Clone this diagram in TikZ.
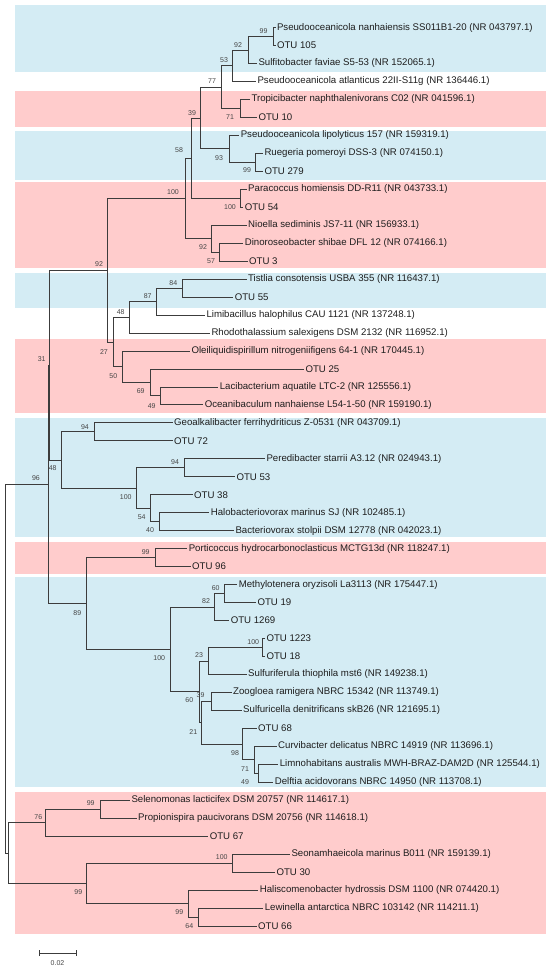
\documentclass[tikz,border=0pt]{standalone}
\usepackage{fontspec}
\setmainfont{Liberation Sans}
\definecolor{bandblue}{RGB}{212,236,244}
\definecolor{bandred}{RGB}{255,204,204}
\definecolor{linegray}{RGB}{60,60,60}
\definecolor{txtgray}{RGB}{30,30,30}
\definecolor{bootgray}{RGB}{70,70,70}
\tikzset{
  branch/.style={draw=linegray, line width=0.8pt},
  leaflab/.style={anchor=west, xshift=1.3pt, inner sep=0pt, font=\fontsize{9.65}{10}\selectfont, text=txtgray},
  boot/.style={inner sep=0pt, font=\fontsize{7}{8}\selectfont, text=bootgray},
  band/.style={draw=none}
}
\newcommand\lf[5]{\coordinate (#1) at (#3,#4); \node[leaflab] (#1t) at (#1) {#5}; \draw[branch] (#2) |- (#1);}
\newcommand\nd[4]{\coordinate (#1) at (#3,#4); \draw[branch] (#2) |- (#1);}
\newcommand\bs[4]{\node[boot] (#1) at (#2,#3) {#4};}
\begin{document}
\begin{tikzpicture}[x=1pt,y=-1pt]
\useasboundingbox (0,0) rectangle (550,967);
% bands
\fill[bandblue] (15,5) rectangle (546,72);
\fill[bandred]  (15,91) rectangle (546,127);
\fill[bandblue] (15,131) rectangle (546,180);
\fill[bandred]  (15,182) rectangle (546,268);
\fill[bandblue] (15,273) rectangle (546,308);
\fill[bandred]  (15,339) rectangle (546,413);
\fill[bandblue] (15,418) rectangle (546,537);
\fill[bandred]  (15,542) rectangle (546,574);
\fill[bandblue] (15,577) rectangle (546,787);
\fill[bandred]  (15,792) rectangle (546,934);
% root
\coordinate (root) at (5,668.65);
\nd{n96}{root}{48.3}{484.29}
\nd{nbot}{root}{8.3}{853.0}
\nd{n31}{n96}{49.5}{365.04}
\nd{n89}{n96}{86.7}{603.53}
\nd{n92c}{n31}{107.3}{270.17}
\nd{n48b}{n31}{61}{459.91}
\nd{n100big}{n92c}{185.7}{198.36}
\nd{n27}{n92c}{113.3}{341.98}
\nd{n58}{n100big}{191.7}{158.07}
\nd{n92b}{n100big}{211.7}{238.65}
\nd{n39}{n58}{200.7}{117.92}
\nd{n100par}{n58}{240}{198.22}
\nd{n77}{n39}{221.7}{87.03}
\nd{n93}{n39}{229}{148.8}
\nd{n53}{n77}{232.7}{65.69}
\nd{n71a}{n77}{240}{108.37}
\nd{n92a}{n53}{248.3}{49.96}
\nd{nP1}{n92a}{273}{36.49}
\nd{n99b}{n93}{255}{162.28}
\nd{n57}{n92b}{219.3}{252.13}
\nd{n48a}{n27}{129}{317.27}
\nd{n50}{n27}{122.7}{366.69}
\nd{n87}{n48a}{156.7}{301.55}
\nd{n84}{n87}{182.3}{288.07}
\nd{n69}{n50}{150}{382.41}
\nd{n49a}{n69}{160.3}{395.89}
\nd{n94a}{n48b}{94.3}{431.83}
\nd{n100pe}{n48b}{136.7}{487.99}
\nd{n94b}{n100pe}{184.3}{467.77}
\nd{n54}{n100pe}{150}{508.2}
\nd{n40}{n54}{159}{521.68}
\nd{n99por}{n89}{155}{557.62}
\nd{n100m}{n89}{170}{649.44}
\nd{n82}{n100m}{214.3}{607.04}
\nd{n60b}{n100m}{199}{691.84}
\nd{n60a}{n82}{224.5}{593.56}
\nd{n23}{n60b}{208.3}{660.95}
\nd{n21}{n60b}{201.7}{722.72}
\nd{n100b}{n23}{262}{647.47}
\nd{n39b}{n21}{211.7}{701.38}
\nd{n98}{n21}{242.7}{744.06}
\nd{n71b}{n98}{254}{759.78}
\nd{n49b}{n71b}{258.3}{773.26}
\nd{n76}{nbot}{45.7}{822.68}
\nd{n99d}{nbot}{86}{883.33}
\nd{n99c}{n76}{100}{809.2}
\nd{n100c}{n99d}{232.3}{863.11}
\nd{n99e}{n99d}{188.3}{903.54}
\nd{n64}{n99e}{198.3}{917.02}
% leaves
\lf{l1}{nP1}{275.5}{27.5}{Pseudooceanicola nanhaiensis SS011B1-20 (NR 043797.1)}
\lf{l2}{nP1}{275.5}{45.47}{OTU 105}
\lf{l3}{n92a}{257}{63.44}{Sulfitobacter faviae S5-53 (NR 152065.1)}
\lf{l4}{n53}{256}{81.41}{Pseudooceanicola atlanticus 22II-S11g (NR 136446.1)}
\lf{l5}{n71a}{250}{99.38}{Tropicibacter naphthalenivorans C02 (NR 041596.1)}
\lf{l6}{n71a}{257}{117.35}{OTU 10}
\lf{l7}{n93}{239.3}{135.32}{Pseudooceanicola lipolyticus 157 (NR 159319.1)}
\lf{l8}{n99b}{263}{153.29}{Ruegeria pomeroyi DSS-3 (NR 074150.1)}
\lf{l9}{n99b}{263}{171.26}{OTU 279}
\lf{l10}{n100par}{246.7}{189.23}{Paracoccus homiensis DD-R11 (NR 043733.1)}
\lf{l11}{n100par}{243.3}{207.2}{OTU 54}
\lf{l12}{n92b}{246.7}{225.17}{Nioella sediminis JS7-11 (NR 156933.1)}
\lf{l13}{n57}{243.3}{243.14}{Dinoroseobacter shibae DFL 12 (NR 074166.1)}
\lf{l14}{n57}{247.7}{261.11}{OTU 3}
\lf{l15}{n84}{246.7}{279.08}{Tistlia consotensis USBA 355 (NR 116437.1)}
\lf{l16}{n84}{233.3}{297.05}{OTU 55}
\lf{l17}{n87}{205}{315.02}{Limibacillus halophilus CAU 1121 (NR 137248.1)}
\lf{l18}{n48a}{210}{332.99}{Rhodothalassium salexigens DSM 2132 (NR 116952.1)}
\lf{l19}{n50}{190}{350.96}{Oleiliquidispirillum nitrogeniifigens 64-1 (NR 170445.1)}
\lf{l20}{n69}{304}{368.93}{OTU 25}
\lf{l21}{n49a}{218.3}{386.9}{Lacibacterium aquatile LTC-2 (NR 125556.1)}
\lf{l22}{n49a}{203.3}{404.87}{Oceanibaculum nanhaiense L54-1-50 (NR 159190.1)}
\lf{l23}{n94a}{172.7}{422.84}{Geoalkalibacter ferrihydriticus Z-0531 (NR 043709.1)}
\lf{l24}{n94a}{172.7}{440.81}{OTU 72}
\lf{l25}{n94b}{265}{458.78}{Peredibacter starrii A3.12 (NR 024943.1)}
\lf{l26}{n94b}{235}{476.75}{OTU 53}
\lf{l27}{n54}{192.7}{494.72}{OTU 38}
\lf{l28}{n40}{209.3}{512.69}{Halobacteriovorax marinus SJ (NR 102485.1)}
\lf{l29}{n40}{234}{530.66}{Bacteriovorax stolpii DSM 12778 (NR 042023.1)}
\lf{l30}{n99por}{187.3}{548.63}{Porticoccus hydrocarbonoclasticus MCTG13d (NR 118247.1)}
\lf{l31}{n99por}{190.7}{566.6}{OTU 96}
\lf{l32}{n60a}{237.3}{584.57}{Methylotenera oryzisoli La3113 (NR 175447.1)}
\lf{l33}{n60a}{256}{602.54}{OTU 19}
\lf{l34}{n82}{229.3}{620.51}{OTU 1269}
\lf{l35}{n100b}{265}{638.48}{OTU 1223}
\lf{l36}{n100b}{265}{656.45}{OTU 18}
\lf{l37}{n23}{246.7}{674.42}{Sulfuriferula thiophila mst6 (NR 149238.1)}
\lf{l38}{n39b}{231.7}{692.39}{Zoogloea ramigera NBRC 15342 (NR 113749.1)}
\lf{l39}{n39b}{241.7}{710.36}{Sulfuricella denitrificans skB26 (NR 121695.1)}
\lf{l40}{n98}{256.7}{728.33}{OTU 68}
\lf{l41}{n71b}{276.7}{746.3}{Curvibacter delicatus NBRC 14919 (NR 113696.1)}
\lf{l42}{n49b}{278.3}{764.27}{Limnohabitans australis MWH-BRAZ-DAM2D (NR 125544.1)}
\lf{l43}{n49b}{273.3}{782.24}{Delftia acidovorans NBRC 14950 (NR 113708.1)}
\lf{l44}{n99c}{130}{800.21}{Selenomonas lacticifex DSM 20757 (NR 114617.1)}
\lf{l45}{n99c}{136.7}{818.18}{Propionispira paucivorans DSM 20756 (NR 114618.1)}
\lf{l46}{n76}{208.3}{836.15}{OTU 67}
\lf{l47}{n100c}{290}{854.12}{Seonamhaeicola marinus B011 (NR 159139.1)}
\lf{l48}{n100c}{275}{872.09}{OTU 30}
\lf{l49}{n99e}{258.3}{890.06}{Haliscomenobacter hydrossis DSM 1100 (NR 074420.1)}
\lf{l50}{n64}{263.3}{908.03}{Lewinella antarctica NBRC 103142 (NR 114211.1)}
\lf{l51}{n64}{256.7}{926.0}{OTU 66}
% bootstrap values
\bs{b1}{263.5}{31}{99}
\bs{b2}{238}{45}{92}
\bs{b3}{224}{60}{53}
\bs{b4}{212}{81}{77}
\bs{b5}{230}{117}{71}
\bs{b6}{192}{113}{39}
\bs{b7}{219}{158}{93}
\bs{b8}{247}{170}{99}
\bs{b9}{179}{150}{58}
\bs{b10}{173}{192}{100}
\bs{b11}{230}{207}{100}
\bs{b12}{203}{247}{92}
\bs{b13}{211}{261}{57}
\bs{b14}{99}{264}{92}
\bs{b15}{173.3}{283}{84}
\bs{b16}{147.7}{296}{87}
\bs{b17}{120.7}{311.7}{48}
\bs{b18}{104}{351.7}{27}
\bs{b19}{113.3}{375.7}{50}
\bs{b20}{140.7}{391}{69}
\bs{b21}{151.7}{405.7}{49}
\bs{b22}{41.7}{359}{31}
\bs{b23}{85}{426.7}{94}
\bs{b24}{52.7}{468.3}{48}
\bs{b25}{36}{478.5}{96}
\bs{b26}{175}{461.7}{94}
\bs{b27}{125.7}{496.7}{100}
\bs{b28}{141.7}{516.7}{54}
\bs{b29}{150}{530}{40}
\bs{b30}{145.7}{551.7}{99}
\bs{b31}{77.3}{612.7}{89}
\bs{b32}{215.7}{588.3}{60}
\bs{b33}{206}{601}{82}
\bs{b34}{159.3}{657.7}{100}
\bs{b35}{253.3}{641.7}{100}
\bs{b36}{199}{655.5}{23}
\bs{b37}{189.3}{700}{60}
\bs{b38}{200.5}{695.5}{39}
\bs{b39}{193.3}{731.7}{21}
\bs{b40}{235}{752.7}{98}
\bs{b41}{245}{769.3}{71}
\bs{b42}{245}{781.7}{49}
\bs{b43}{90.7}{803.3}{99}
\bs{b44}{38.3}{817.3}{76}
\bs{b45}{221.7}{857.3}{100}
\bs{b46}{78.3}{891.7}{99}
\bs{b47}{179.3}{911.7}{99}
\bs{b48}{189.3}{925.7}{64}
% scale bar
\coordinate (sbA) at (39,953);
\coordinate (sbB) at (76,953);
\draw[branch] (sbA) -- (sbB);
\draw[branch] ([yshift=-3pt]sbA) -- ([yshift=3pt]sbA);
\draw[branch] ([yshift=-3pt]sbB) -- ([yshift=3pt]sbB);
\node[boot] (sbl) at (57.5,963) {0.02};
\end{tikzpicture}
\end{document}
